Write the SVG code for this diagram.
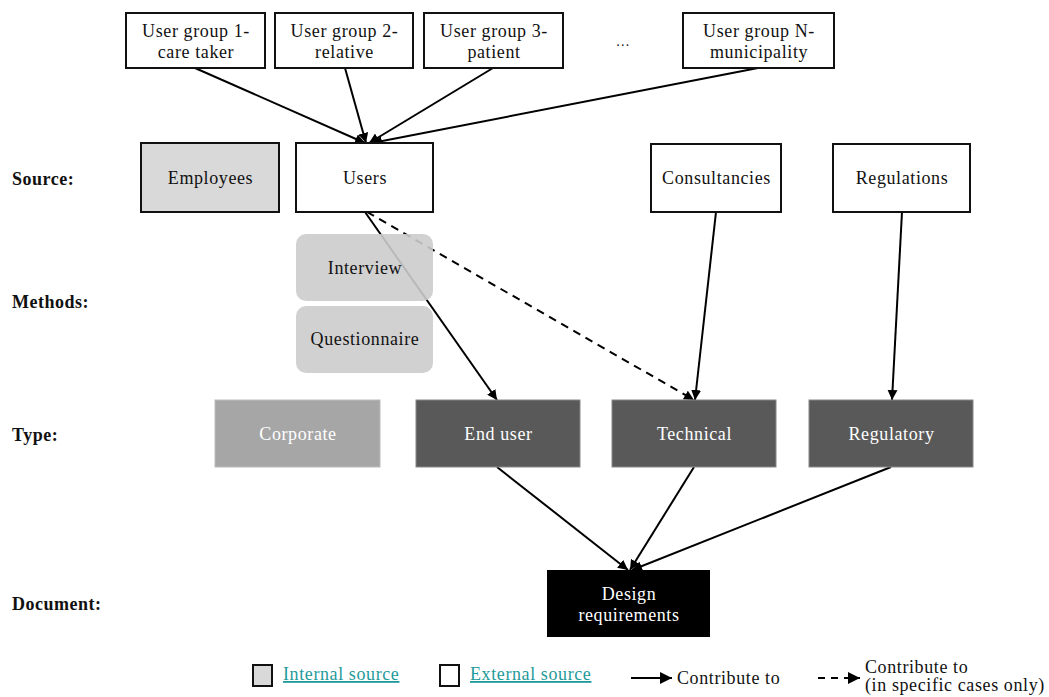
<svg xmlns="http://www.w3.org/2000/svg" width="1049" height="697" viewBox="0 0 1049 697">
<defs>
<marker id="ah" viewBox="0 0 10 10" refX="10" refY="5" markerWidth="10" markerHeight="10" markerUnits="userSpaceOnUse" orient="auto"><path d="M0,0 L10,5 L0,10 z" fill="#000"/></marker>
<marker id="ahL" viewBox="0 0 10 10" refX="10" refY="5" markerWidth="12" markerHeight="12" markerUnits="userSpaceOnUse" orient="auto"><path d="M0,0 L10,5 L0,10 z" fill="#000"/></marker>
</defs>
<style>
text{font-family:"Liberation Serif","Times New Roman",serif;font-size:18px;fill:#111;letter-spacing:0.6px}
.c{text-anchor:middle}
.lbl{font-weight:bold;font-size:18px;letter-spacing:0.5px}
.box{fill:#fff;stroke:#111;stroke-width:2}
.int{fill:#d9d9d9;stroke:#111;stroke-width:2}
.meth{fill:#cccccc;opacity:0.9}
.type{fill:#595959;stroke:#888;stroke-width:1}
.corp{fill:#a6a6a6;stroke:#bbb;stroke-width:1}
.w{fill:#fff}
.ln{stroke:#000;stroke-width:2;fill:none;marker-end:url(#ah)}
.dash{stroke-dasharray:8,6}
.link{fill:#1f9a9a;text-decoration:underline}
</style>
<rect width="1049" height="697" fill="#fff"/>
<g id="row-labels">
<text class="lbl" x="12" y="185">Source:</text>
<text class="lbl" x="12" y="308">Methods:</text>
<text class="lbl" x="12" y="441">Type:</text>
<text class="lbl" x="12" y="610">Document:</text>
</g>
<g id="connectors">
<line class="ln" x1="195" y1="68" x2="365" y2="143"/>
<line class="ln" x1="345" y1="68" x2="366" y2="143"/>
<line class="ln" x1="493" y1="68" x2="369" y2="143"/>
<line class="ln" x1="758" y1="68" x2="372" y2="143"/>
<line class="ln" x1="365" y1="212" x2="497" y2="400"/>
<line class="ln dash" x1="367" y1="212" x2="694" y2="400"/>
<line class="ln" x1="716" y1="212" x2="695" y2="400"/>
<line class="ln" x1="902" y1="212" x2="892" y2="400"/>
<line class="ln" x1="497" y1="467" x2="628" y2="570"/>
<line class="ln" x1="694" y1="467" x2="630" y2="570"/>
<line class="ln" x1="891" y1="467" x2="632" y2="570"/>
</g>
<g id="ug1"><rect class="box" x="126" y="13" width="139" height="55"/><text class="c" x="196" y="37">User group 1-</text><text class="c" x="196" y="58">care taker</text></g>
<g id="ug2"><rect class="box" x="275" y="13" width="138" height="55"/><text class="c" x="344.5" y="37">User group 2-</text><text class="c" x="344.5" y="58">relative</text></g>
<g id="ug3"><rect class="box" x="424" y="13" width="139" height="55"/><text class="c" x="494" y="37">User group 3-</text><text class="c" x="494" y="58">patient</text></g>
<g id="ellipsis"><text class="c" x="623" y="46" style="font-size:14px">…</text></g>
<g id="ugN"><rect class="box" x="683" y="13" width="151" height="55"/><text class="c" x="759" y="37">User group N-</text><text class="c" x="759" y="58">municipality</text></g>
<g id="employees"><rect class="int" x="141" y="143" width="138" height="69"/><text class="c" x="210.5" y="184">Employees</text></g>
<g id="users"><rect class="box" x="296" y="143" width="137" height="69"/><text class="c" x="365" y="184">Users</text></g>
<g id="consultancies"><rect class="box" x="651" y="144" width="130" height="68"/><text class="c" x="716.5" y="184">Consultancies</text></g>
<g id="regulations"><rect class="box" x="833" y="144" width="137" height="68"/><text class="c" x="902" y="184">Regulations</text></g>
<g id="interview"><rect class="meth" x="296" y="234" width="137" height="67" rx="10"/><text class="c" x="365" y="274">Interview</text></g>
<g id="questionnaire"><rect class="meth" x="296" y="306" width="137" height="67" rx="10"/><text class="c" x="365" y="345">Questionnaire</text></g>
<g id="corporate"><rect class="corp" x="215" y="400" width="165" height="67"/><text class="c w" x="298" y="440">Corporate</text></g>
<g id="enduser"><rect class="type" x="416" y="400" width="164" height="67"/><text class="c w" x="498.5" y="440">End user</text></g>
<g id="technical"><rect class="type" x="612" y="400" width="164" height="67"/><text class="c w" x="694.5" y="440">Technical</text></g>
<g id="regulatory"><rect class="type" x="809" y="400" width="164" height="67"/><text class="c w" x="891.5" y="440">Regulatory</text></g>
<g id="design"><rect x="547" y="570" width="163" height="67" fill="#000"/><text class="c w" x="629" y="600">Design</text><text class="c w" x="629" y="621">requirements</text></g>
<g id="legend">
<rect class="int" x="253" y="665" width="19" height="21"/>
<text class="link" x="283" y="680">Internal source</text>
<rect class="box" x="440" y="665" width="19" height="21"/>
<text class="link" x="470" y="680">External source</text>
<line x1="631" y1="678" x2="672" y2="678" stroke="#000" stroke-width="2" marker-end="url(#ahL)"/>
<text x="677" y="684">Contribute to</text>
<line x1="818" y1="678" x2="860" y2="678" stroke="#000" stroke-width="2" stroke-dasharray="7,6" marker-end="url(#ahL)"/>
<text x="865" y="673">Contribute to</text>
<text x="865" y="691">(in specific cases only)</text>
</g>
</svg>
